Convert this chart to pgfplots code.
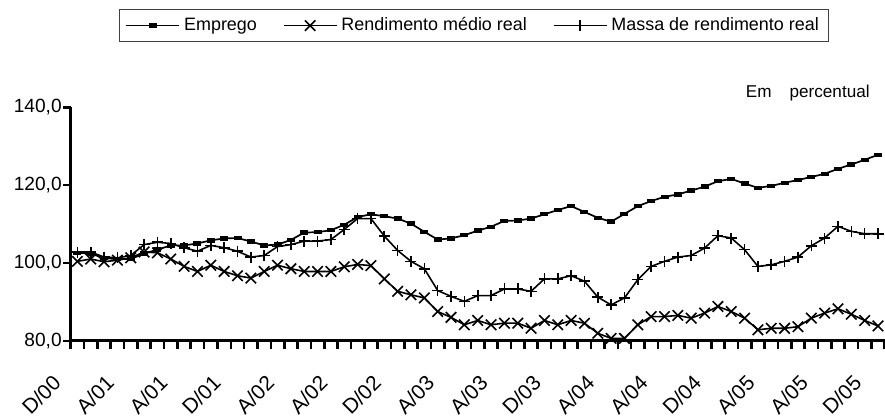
\documentclass[border=0pt]{standalone}
\usepackage{fontspec}
\setmainfont{Liberation Sans}
\usepackage{pgfplots}
\usepackage{pgfplotstable}
\pgfplotsset{compat=1.18}
\pgfplotstableread{
i E R M
0 102.6 100.4 102.8
1 102.4 101.0 102.8
2 101.2 100.3 101.5
3 101.0 100.7 101.3
4 101.0 101.3 101.9
5 102.4 102.8 104.7
6 103.4 102.6 105.3
7 104.5 101.0 105.0
8 104.5 99.1 103.9
9 105.0 97.8 103.0
10 105.8 99.4 104.5
11 106.3 97.8 103.9
12 106.4 96.7 103.0
13 105.5 96.1 101.5
14 104.5 97.8 101.9
15 104.7 99.4 104.2
16 105.9 98.5 104.7
17 107.8 97.8 105.6
18 107.9 97.8 105.6
19 108.4 97.8 106.0
20 109.8 99.0 108.6
21 111.8 99.6 111.4
22 112.5 99.3 111.4
23 112.0 95.9 106.9
24 111.4 92.7 103.2
25 110.1 91.8 100.4
26 108.0 91.0 98.5
27 106.0 87.5 92.9
28 106.3 86.0 91.4
29 107.1 84.1 90.1
30 108.3 85.2 91.6
31 109.3 84.1 91.6
32 110.8 84.5 93.3
33 110.9 84.5 93.3
34 111.4 83.2 92.7
35 112.5 85.2 95.9
36 113.6 84.1 95.9
37 114.6 85.2 96.7
38 113.1 84.5 95.3
39 111.6 81.9 91.2
40 110.6 80.6 89.2
41 112.6 80.6 91.0
42 114.6 84.1 95.7
43 115.9 86.2 99.1
44 117.0 86.2 100.4
45 117.6 86.5 101.5
46 118.6 85.8 101.9
47 119.6 87.1 103.8
48 121.0 88.8 107.0
49 121.6 87.5 106.4
50 120.4 85.8 103.4
51 119.3 82.8 99.1
52 119.8 83.2 99.5
53 120.6 83.2 100.4
54 121.3 83.6 101.5
55 122.1 85.8 104.4
56 122.9 87.1 106.4
57 124.2 88.2 109.4
58 125.3 86.8 108.1
59 126.5 85.2 107.5
60 127.8 83.8 107.5
}\datatable
\begin{document}
\begin{tikzpicture}
\path[use as bounding box] (-35.35bp,-39.15bp) rectangle (407.15bp,170.35bp);
\begin{axis}[
  scale only axis, width=407bp, height=116.7bp,
  xmin=-0.5, xmax=60.5, ymin=80, ymax=140,
  axis x line*=bottom, axis y line*=left,
  axis line style={line width=1.6bp, black},
  tick align=outside,
  ytick={80,100,120,140},
  major tick length=3.7bp,
  minor tick length=4.3bp,
  y tick style={line width=1.2bp, black},
  xtick={0,4,...,60},
  xticklabels={D/00,A/01,A/01,D/01,A/02,A/02,D/02,A/03,A/03,D/03,A/04,A/04,D/04,A/05,A/05,D/05},
  major x tick style={draw=none},
  minor xtick={-0.5,0.5,...,60.5},
  minor x tick style={line width=1.3bp, black},
  /pgf/number format/.cd, fixed, fixed zerofill, precision=1, use comma, assume math mode=true,
  /pgfplots/.cd,
  yticklabel style={font=\fontsize{9.6}{11}\selectfont, anchor=east, inner sep=0pt, xshift=-0.6bp},
  xticklabel style={font=\fontsize{10.5}{12}\selectfont, inner sep=0pt, xshift=-10.15bp, yshift=-15.45bp, rotate=45, anchor=east},
  legend columns=3,
  legend style={at={(0.0593,1.4212)}, anchor=north west, draw=black!75, line width=0.5bp,
    font=\fontsize{9}{10}\selectfont, inner xsep=3bp, inner ysep=2bp,
    /tikz/every even column/.append style={column sep=11bp}},
  legend image code/.code={\draw[#1, mark repeat=2, mark phase=2] plot coordinates {(0bp,0bp) (13.25bp,0bp) (26.5bp,0bp)};},
  clip=false,
]
\addplot[black, line width=0.85bp, mark=-, mark size=2bp, mark options={line width=2.2bp}] table[x=i,y=E]{\datatable};
\addlegendentry{Emprego}
\addplot[black, line width=0.8bp, mark=x, mark size=3.7bp, mark options={line width=0.8bp}] table[x=i,y=R]{\datatable};
\addlegendentry{Rendimento médio real}
\addplot[black, line width=0.8bp, mark=+, mark size=2.75bp, mark options={line width=0.8bp}] table[x=i,y=M]{\datatable};
\addlegendentry{Massa de rendimento real}
\node[anchor=base east, font=\fontsize{8.6}{10}\selectfont, inner sep=0pt] at (axis description cs:0.982,1.0441) {Em\hspace{9bp}percentual};
\end{axis}
\end{tikzpicture}
\end{document}
